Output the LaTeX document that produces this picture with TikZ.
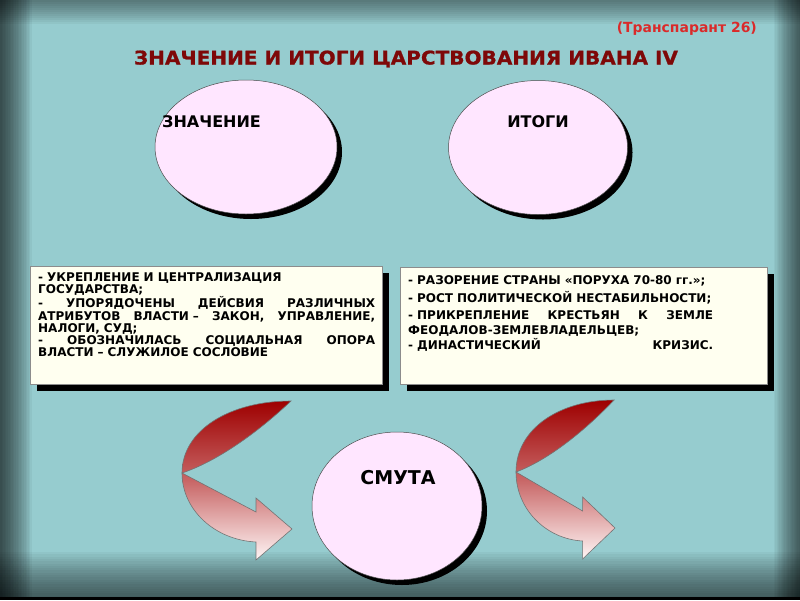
\documentclass[tikz,border=0pt]{standalone}
\usepackage{fontspec}
\setmainfont{DejaVu Sans}
\newfontfamily\heavyfont[FakeBold=0.9]{DejaVu Sans}
\usetikzlibrary{shapes.geometric,shadows}
\definecolor{bg}{HTML}{96CCCF}
\definecolor{titlered}{HTML}{7E0808}
\definecolor{tagred}{HTML}{DA2A2A}
\definecolor{ovalfill}{HTML}{FFE6FF}
\definecolor{cardfill}{HTML}{FFFFF0}
\definecolor{arrtop}{HTML}{9E0000}
\definecolor{arrmid}{HTML}{C86666}
\definecolor{arrbot}{HTML}{FFF6F6}
\newcommand\justl[1]{\leavevmode\hbox to 337pt{#1}}
\newcommand\justr[1]{\leavevmode\hbox to 305pt{#1}}
\tikzset{
  oval/.style={ellipse, draw=black!70, line width=0.5pt, fill=ovalfill, inner sep=0pt,
    general shadow={fill=black, shadow xshift=5pt, shadow yshift=-5pt}},
  card/.style={rectangle, draw=black!45, line width=0.5pt, fill=cardfill, inner sep=0pt,
    general shadow={fill=black, shadow xshift=7pt, shadow yshift=-7pt}},
  ovallabel/.style={inner sep=0pt, font=\bfseries\fontsize{16}{18}\selectfont},
  cardtext/.style={inner sep=0pt, align=left, font=\bfseries\fontsize{12}{12.2}\selectfont},
  bendarrow/.style={draw=black!55, line width=0.6pt, top color=arrtop, bottom color=arrbot, middle color=arrmid},
  shade strip/.style={fill=black, opacity=#1}
}
\begin{document}
\begin{tikzpicture}[x=1pt,y=-1pt]
\useasboundingbox (0,0) rectangle (800,600);
% background with dark edges
\fill[bg] (0,0) rectangle (800,600);
\foreach \k in {1,...,20} {
  \fill[shade strip=0.045] (0,0) rectangle ({1.6*\k},600);
  \fill[shade strip=0.035] ({800-1.3*\k},0) rectangle (800,600);
  \fill[shade strip=0.035] (0,{598-2.3*\k}) rectangle (800,598);
}
\foreach \k in {1,...,12} {
  \fill[shade strip=0.038] (0,0) rectangle (800,{2*\k});
}
\fill[black] (0,597) rectangle (800,600);

% header
\node[anchor=base east, inner sep=0pt, text=tagred, font=\bfseries] (tag) at (757,32)
  {\resizebox{140pt}{!}{(Транспарант 26)}};
\node[anchor=base, inner sep=0pt, text=titlered, font=\heavyfont\bfseries] (title) at (406,64.5)
  {\resizebox{544pt}{14pt}{ЗНАЧЕНИЕ И ИТОГИ ЦАРСТВОВАНИЯ ИВАНА IV}};

% ovals
\node[oval, minimum width=182pt, minimum height=134pt] (znach) at (246,147) {};
\node[ovallabel, anchor=base west] (znachlabel) at (162,127.5) {ЗНАЧЕНИЕ};
\node[oval, minimum width=179pt, minimum height=134pt] (itogi) at (538,147.5) {};
\node[ovallabel, anchor=base] (itogilabel) at (538,127.5) {ИТОГИ};

% cards
\node[card, anchor=north west, minimum width=352pt, minimum height=118pt] (lcard) at (30,266) {};
\node[cardtext, anchor=north west, text width=337pt] (ltext) at (38,272.5) {%
- УКРЕПЛЕНИЕ И ЦЕНТРАЛИЗАЦИЯ\\
ГОСУДАРСТВА;\\
\justl{-\hfill УПОРЯДОЧЕНЫ\hfill ДЕЙСВИЯ\hfill РАЗЛИЧНЫХ}\\
\justl{АТРИБУТОВ\hfill ВЛАСТИ –\hfill ЗАКОН,\hfill УПРАВЛЕНИЕ,}\\
НАЛОГИ, СУД;\\
\justl{-\hfill ОБОЗНАЧИЛАСЬ\hfill СОЦИАЛЬНАЯ\hfill ОПОРА}\\
ВЛАСТИ – СЛУЖИЛОЕ СОСЛОВИЕ};

\node[card, anchor=north west, minimum width=367pt, minimum height=117pt] (rcard) at (400,267) {};
\node[cardtext, anchor=north west, text width=305pt, font=\bfseries\fontsize{12}{15}\selectfont] (rtext) at (408,275.5) {%
- РАЗОРЕНИЕ СТРАНЫ «ПОРУХА 70-80 гг.»;\\[3pt]
- РОСТ ПОЛИТИЧЕСКОЙ НЕСТАБИЛЬНОСТИ;\\[2pt]
\justr{- ПРИКРЕПЛЕНИЕ\hfill КРЕСТЬЯН\hfill К\hfill ЗЕМЛЕ}\\
ФЕОДАЛОВ-ЗЕМЛЕВЛАДЕЛЬЦЕВ;\\
\justr{- ДИНАСТИЧЕСКИЙ\hfill КРИЗИС.}};

% bottom oval
\node[oval, minimum width=170pt, minimum height=148pt] (smuta) at (397,506) {};
\node[ovallabel, anchor=base, font=\bfseries\fontsize{19}{21}\selectfont] (smutalabel) at (398,484) {СМУТА};

% curved arrows
\begin{scope}[shift={(182,473)}]
\path[bendarrow] (109,-72) coordinate (ltop) .. controls (48,-72) and (0,-43) .. (0,0) coordinate (lbend)
  .. controls (0,37) and (33,67) .. (74,69) -- (74,87) -- (110,56) coordinate (ltip) -- (74,25) -- (74,39)
  -- (0,0) .. controls (33,-11) and (73,-38) .. (109,-72) -- cycle;
\end{scope}
\begin{scope}[shift={(516,472)}, xscale=0.9]
\path[bendarrow] (109,-72) coordinate (rtop) .. controls (48,-72) and (0,-43) .. (0,0) coordinate (rbend)
  .. controls (0,37) and (33,67) .. (74,69) -- (74,87) -- (110,56) coordinate (rtip) -- (74,25) -- (74,39)
  -- (0,0) .. controls (33,-11) and (73,-38) .. (109,-72) -- cycle;
\end{scope}
\end{tikzpicture}
\end{document}
